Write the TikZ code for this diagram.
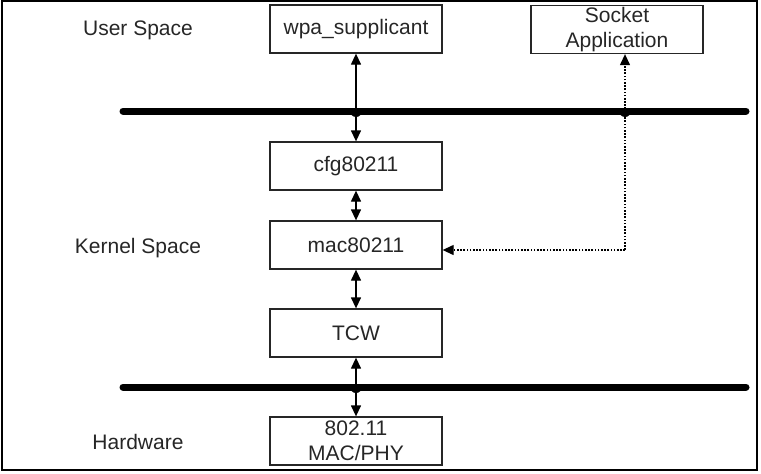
\documentclass[tikz,border=0pt]{standalone}
\usepackage{fontspec}
\setmainfont{Liberation Sans}
\usetikzlibrary{arrows.meta}
\begin{document}
\begin{tikzpicture}[x=1pt,y=-1pt,
  blk/.style={draw=black!85, line width=1.3pt, minimum width=172pt, minimum height=48pt, inner sep=0pt, align=center, font=\fontsize{21}{25}\selectfont, text=black!85},
  lbl/.style={font=\fontsize{21}{25}\selectfont, text=black!85},
  bus/.style={line width=7pt, line cap=round},
  conn/.style={line width=1.3pt, {Triangle[length=11pt,width=10pt]}-{Triangle[length=11pt,width=10pt]}},
  dconn/.style={line width=1.2pt, dash pattern=on 1.6pt off 1.6pt, -{Triangle[length=11pt,width=10pt]}}]
\useasboundingbox (0,0) rectangle (761,474);
\draw[line width=1.5pt] (2,1) rectangle (757,470);
\node[blk] (wpa) at (356,29) {wpa\_supplicant};
\node[blk] (sock) at (617,29.5) {Socket\\Application};
\node[blk] (cfg) at (356,166) {cfg80211};
\node[blk] (mac) at (356,245) {mac80211};
\node[blk] (tcw) at (356,333) {TCW};
\node[blk] (phy) at (356,441) {802.11\\MAC/PHY};
\node[lbl] (us) at (138,30) {User Space};
\node[lbl] (ks) at (138,248) {Kernel Space};
\node[lbl] (hw) at (138,442) {Hardware};
\coordinate (b1l) at (123,111);
\coordinate (b1r) at (746,111);
\coordinate (b2l) at (123,387);
\coordinate (b2r) at (746,387);
\coordinate (corner) at (625,250);
\draw[conn] (wpa) -- (cfg);
\draw[conn] (cfg) -- (mac);
\draw[conn] (mac) -- (tcw);
\draw[conn] (tcw) -- (phy);
\draw[dconn] (corner) -- (mac.east |- corner);
\draw[dconn] (corner) -- (sock.south -| corner);
\draw[bus] (b1l) -- (b1r);
\draw[bus] (b2l) -- (b2r);
\fill (350,111) arc[start angle=180, end angle=0, radius=6] -- cycle;
\fill (619,111) arc[start angle=180, end angle=0, radius=6] -- cycle;
\fill (350,387) arc[start angle=180, end angle=0, radius=6] -- cycle;
\draw[line width=1.3pt] (356,104) -- (356,118);
\draw[line width=1.2pt, dash pattern=on 1.6pt off 1.6pt] (625,104) -- (625,118);
\draw[line width=1.3pt] (356,380) -- (356,394);
\end{tikzpicture}
\end{document}
